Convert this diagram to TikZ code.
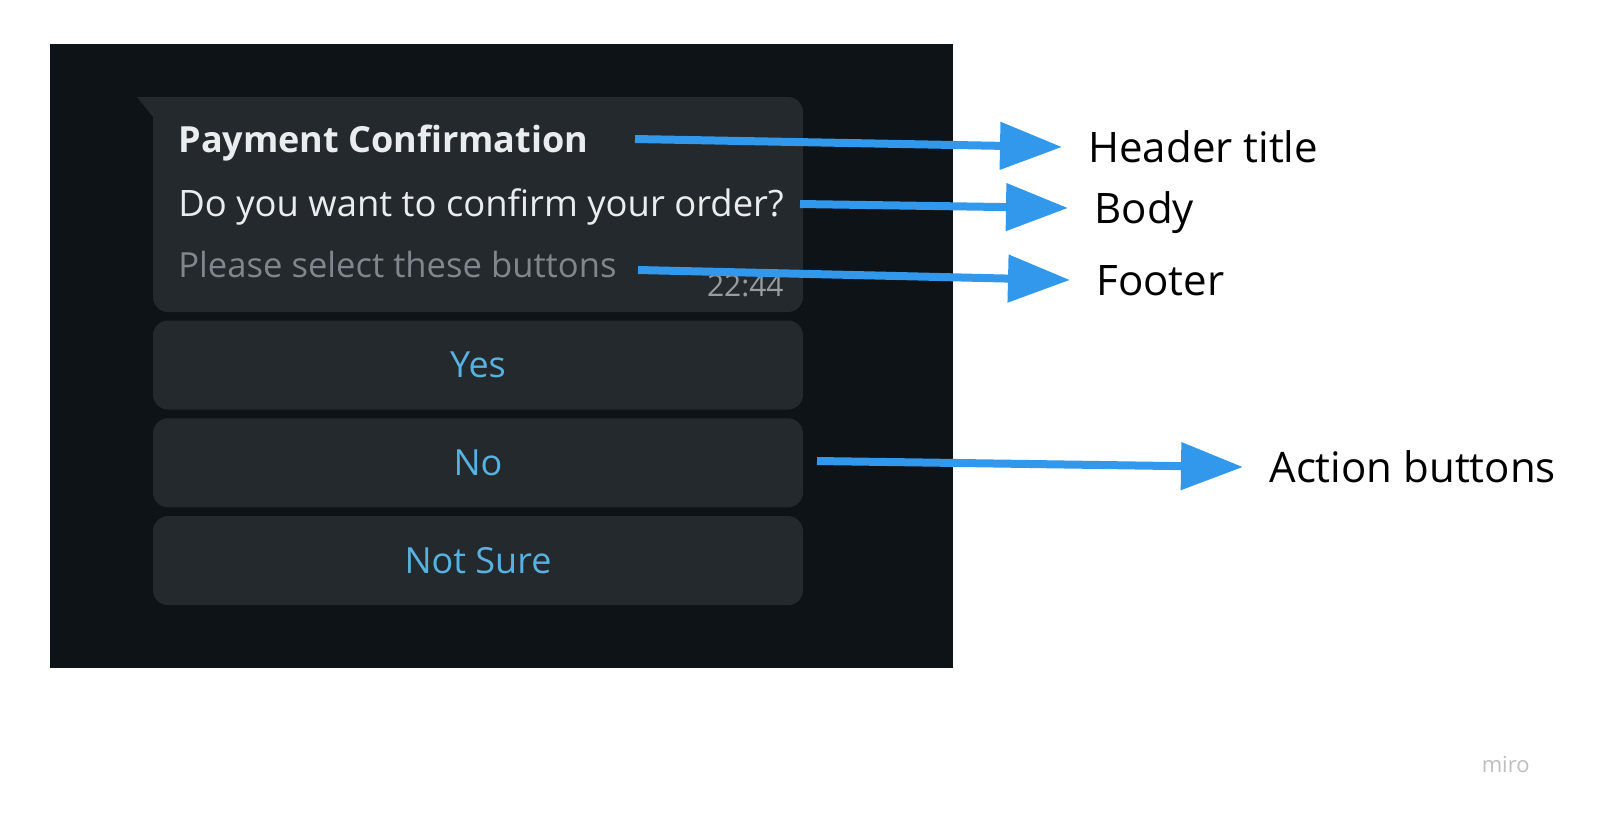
\documentclass[tikz,border=0pt]{standalone}
\usepackage{fontspec}
\setmainfont{Open Sans}
\usepackage{tikz}
\usetikzlibrary{arrows.meta, positioning}

\definecolor{panelbg}{RGB}{13,19,23}
\definecolor{bubblebg}{RGB}{35,41,45}
\definecolor{chattext}{RGB}{233,237,239}
\definecolor{footgray}{RGB}{128,134,139}
\definecolor{timegray}{RGB}{150,156,160}
\definecolor{btnblue}{RGB}{86,178,224}
\definecolor{arrowblue}{RGB}{50,152,236}
\definecolor{mirogray}{RGB}{190,190,190}

\begin{document}
\begin{tikzpicture}[x=0.5pt, y=-0.5pt,
    card/.style={fill=bubblebg, rounded corners=7.5pt, inner sep=0pt, minimum width=325pt},
    button/.style={card, minimum height=44.5pt, text=btnblue, font=\fontsize{18}{21}\selectfont},
    chat/.style={anchor=base west, inner sep=0pt, text=chattext, font=\fontsize{18.2}{21}\selectfont},
    callout/.style={anchor=west, inner xsep=13pt, inner ysep=0pt, text height=15pt, text depth=0pt, font=\fontsize{21}{25}\selectfont},
    pointer/.style={draw=arrowblue, line width=4pt, -{Triangle[length=31pt, width=23pt]}}]

    % Page and dark chat background
    \useasboundingbox (0,0) rectangle (1600,827);
    \fill[white] (0,0) rectangle (1600,827);
    \fill[panelbg] (50,44) rectangle (953,668);

    % Message bubble with its tail
    \node (bubble) [card, minimum height=107.5pt] at (478,204.5) {};
    \fill[bubblebg] (137,97) -- (175,97) -- (175,135) -- (153,135) -- (153,117) -- cycle;

    \node (title) [chat, font=\fontsize{18}{21}\selectfont\bfseries] at (178,152) {Payment Confirmation};
    \node (body) [chat] at (178,216) {Do you want to confirm your order?};
    \node (footer) [chat, text=footgray, font=\fontsize{17.3}{20}\selectfont] at (178,277) {Please select these buttons};
    \node (time) [anchor=base east, inner sep=0pt, text=timegray, font=\fontsize{15}{18}\selectfont] at (784,296) {22:44};

    % Buttons under the bubble
    \node (yes) [button] at (478,365) {Yes};
    \node (no) [button, below=4pt of yes] {No};
    \node (notsure) [button, below=4pt of no] {Not Sure};

    % Labels on the right
    \node (headlbl) [callout] at (1062,147) {Header title};
    \node (bodylbl) [callout] at (1068,208) {Body};
    \node (footlbl) [callout] at (1070,280) {Footer};
    \node (actlbl) [callout] at (1243,467) {Action buttons};

    % Start points of the arrows
    \coordinate (hstart) at (635,139);
    \coordinate (bstart) at (800,204);
    \coordinate (fstart) at (638,270);
    \coordinate (astart) at (817,461);

    \draw[pointer] (hstart) -- (headlbl.west);
    \draw[pointer] (bstart) -- (bodylbl.west);
    \draw[pointer] (fstart) -- (footlbl.west);
    \draw[pointer] (astart) -- (actlbl.west);

    \node (miro) [anchor=base east, inner sep=0pt, text=mirogray, font=\fontsize{11}{13}\selectfont] at (1530,772) {miro};

\end{tikzpicture}
\end{document}
